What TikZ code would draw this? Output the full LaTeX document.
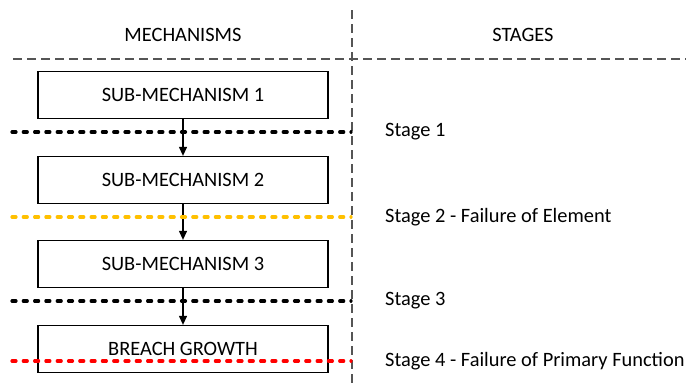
\documentclass[tikz,border=0pt]{standalone}
\usepackage{fontspec}
\setmainfont{Carlito}
\usepackage{tikz}
\usetikzlibrary{calc, arrows.meta}

\definecolor{sepgray}{RGB}{85,85,85}
\definecolor{stageorange}{RGB}{255,192,0}
\definecolor{stagered}{RGB}{255,0,0}

\tikzset{
    mechbox/.style={draw=black, line width=1.3pt, minimum width=290pt, minimum height=47pt, inner sep=0pt, font=\fontsize{20.4}{24}\selectfont},
    headtext/.style={inner sep=0pt, font=\fontsize{20.4}{24}\selectfont},
    stagetext/.style={anchor=west, inner sep=0pt, font=\fontsize{20.4}{24}\selectfont},
    separator/.style={sepgray, line width=1.3pt, dash pattern=on 9pt off 5pt},
    stageline/.style={line width=3.2pt, line cap=round, dash pattern=on 4pt off 7.3pt},
    flow/.style={line width=1.2pt, -{Triangle[length=9pt, width=8pt]}}
}

\begin{document}
\begin{tikzpicture}[x=1pt, y=-1pt]
            \useasboundingbox (0,0) rectangle (686,383);
            % column separators
            \coordinate (top) at (352,10);
            \coordinate (bottom) at (352,383);
            \coordinate (hl) at (13,59);
            \coordinate (hr) at (686,59);
            \draw[separator] (top) -- (bottom);
            \draw[separator] (hl) -- (hr);
            \node[headtext] (mech) at (183,35) {MECHANISMS};
            \node[headtext] (stages) at (523,35) {STAGES};
            % mechanisms
            \node[mechbox] (M1) at (183,95) {SUB-MECHANISM 1};
            \node[mechbox] (M2) at (183,180) {SUB-MECHANISM 2};
            \node[mechbox] (M3) at (183,264) {SUB-MECHANISM 3};
            \node[mechbox] (M4) at (183,349) {BREACH GROWTH};
            \draw[flow] (M1) -- (M2);
            \draw[flow] (M2) -- (M3);
            \draw[flow] (M3) -- (M4);
            % stages
            \coordinate (S1l) at (12,132);
            \coordinate (S2l) at (12,217);
            \coordinate (S3l) at (12,301);
            \coordinate (S4l) at (12,361);
            \coordinate (S1r) at (351,132);
            \coordinate (S2r) at (351,217);
            \coordinate (S3r) at (351,301);
            \coordinate (S4r) at (351,361);
            \draw[stageline, black] (S1l) -- (S1r);
            \draw[stageline, stageorange] (S2l) -- (S2r);
            \draw[stageline, black] (S3l) -- (S3r);
            \draw[stageline, stagered] (S4l) -- (S4r);
            \node[stagetext] (T1) at (385,132) {Stage 1};
            \node[stagetext] (T2) at (385,217) {Stage 2 - Failure of Element};
            \node[stagetext] (T3) at (385,301) {Stage 3};
            \node[stagetext] (T4) at (385,361) {Stage 4 - Failure of Primary Function};
\end{tikzpicture}
\end{document}
